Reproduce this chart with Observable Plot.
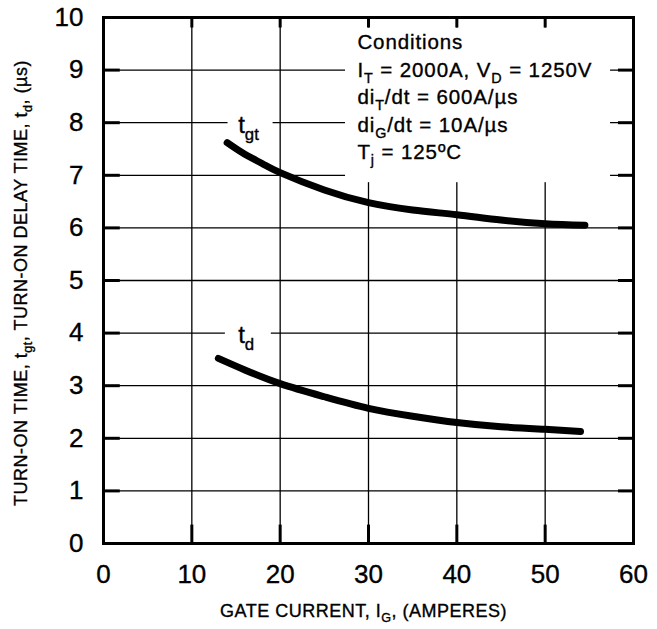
<!DOCTYPE html>
<html>
<head>
<meta charset="utf-8">
<script src="https://cdn.jsdelivr.net/npm/d3@7"></script>
<script src="https://cdn.jsdelivr.net/npm/@observablehq/plot@0.6"></script>
<style>
  body { margin: 0; background: #fff; }
  #chart svg { display: block; }
  #chart svg text { stroke: #000; stroke-width: 0.35px; }
</style>
</head>
<body>
<div id="chart"></div>
<script>
// Turn-on time t_gt versus gate current
const gateCurrentTgt = [14, 16, 18, 20, 25, 30, 35, 40, 45, 50, 54.5];
const turnOnTime = [7.62, 7.40, 7.22, 7.05, 6.72, 6.48, 6.34, 6.25, 6.15, 6.08, 6.05];

// Turn-on delay time t_d versus gate current
const gateCurrentTd = [13, 16, 20, 25, 30, 35, 40, 45, 50, 54];
const delayTime = [3.52, 3.30, 3.04, 2.79, 2.57, 2.42, 2.30, 2.22, 2.17, 2.13];

// Axis ticks
const xTicks = [0, 10, 20, 30, 40, 50, 60];
const yTicks = [0, 1, 2, 3, 4, 5, 6, 7, 8, 9, 10];

// Test conditions, as [text, subscript?] runs
const conditionLines = [
  [["Conditions", false]],
  [["I", false], ["T", true], [" = 2000A, V", false], ["D", true], [" = 1250V", false]],
  [["di", false], ["T", true], ["/dt = 600A/\u00b5s", false]],
  [["di", false], ["G", true], ["/dt = 10A/\u00b5s", false]],
  [["T", false], ["j", true], [" = 125\u00baC", false]]
];
const curveLabels = [
  {name: "tgt", runs: [["t", false], ["gt", true]]},
  {name: "td", runs: [["t", false], ["d", true]]}
];
const xTitle = [["GATE CURRENT, I", false], ["G", true], [", (AMPERES)", false]];
const yTitle = [["TURN-ON TIME, t", false], ["gt", true], [", TURN-ON DELAY TIME, t", false], ["d", true], [", (\u00b5s)", false]];

const tgtRows = gateCurrentTgt.map((x, i) => ({x, y: turnOnTime[i]}));
const tdRows = gateCurrentTd.map((x, i) => ({x, y: delayTime[i]}));

const font = '"Liberation Sans", Arial, Helvetica, sans-serif';
const inner = yTicks.slice(1, -1);
const innerX = xTicks.slice(1, -1);

const plot = Plot.plot({
  width: 657,
  height: 629,
  marginLeft: 103,
  marginRight: 24,
  marginTop: 17,
  marginBottom: 86,
  style: {fontFamily: font, background: "#fff", color: "#000"},
  x: {domain: [0, 60]},
  y: {domain: [0, 10]},
  marks: [
    // grid
    Plot.ruleY(inner, {stroke: "#000", strokeWidth: 1.3}),
    Plot.ruleX(innerX, {stroke: "#000", strokeWidth: 1.3}),
    // white panels behind the annotations
    Plot.rect([{}], {x1: 27.4, x2: 57.4, y1: 6.86, y2: 9.8, fill: "#fff"}),
    Plot.rect([{}], {x1: 14.1, x2: 19.2, y1: 7.7, y2: 8.5, fill: "#fff"}),
    Plot.rect([{}], {x1: 13.8, x2: 19.0, y1: 3.65, y2: 4.45, fill: "#fff"}),
    // heavy tick stubs inside the frame
    Plot.ruleY(inner, {x1: 0, x2: 1.9, stroke: "#000", strokeWidth: 3}),
    Plot.ruleY(inner, {x1: 58.3, x2: 60, stroke: "#000", strokeWidth: 3}),
    Plot.ruleX(innerX, {y1: 0, y2: 0.35, stroke: "#000", strokeWidth: 3}),
    Plot.ruleX(innerX, {y1: 9.8, y2: 10, stroke: "#000", strokeWidth: 3}),
    Plot.axisX({ticks: xTicks, tickSize: 0, tickPadding: 21, fontSize: 26, label: null}),
    Plot.axisY({ticks: yTicks, tickSize: 0, tickPadding: 20, fontSize: 26, label: null}),
    Plot.line(tgtRows, {x: "x", y: "y", curve: "natural", stroke: "#000", strokeWidth: 7}),
    Plot.line(tdRows, {x: "x", y: "y", curve: "natural", stroke: "#000", strokeWidth: 7}),
    Plot.frame({stroke: "#000", strokeWidth: 3})
  ]
});

document.getElementById("chart").appendChild(plot);

const sx = plot.scale("x");
const sy = plot.scale("y");
const svg = d3.select(plot);

// Writes a text element made of normal and subscript runs
function richText(x, y, runs, size, opts = {}) {
  const t = svg.append("text")
    .attr("x", x).attr("y", y)
    .attr("font-family", font)
    .attr("font-size", size)
    .attr("fill", "#000")
    .attr("letter-spacing", opts.spacing || 0)
    .attr("text-anchor", opts.anchor || "start");
  if (opts.rotate) t.attr("transform", `rotate(${opts.rotate},${x},${y})`);
  const shift = size * 0.3;
  let lowered = false;
  for (const [str, sub] of runs) {
    const s = t.append("tspan").text(str);
    if (sub) {
      s.attr("font-size", size * 0.7);
      if (!lowered) s.attr("dy", shift);
      lowered = true;
    } else {
      if (lowered) s.attr("dy", -shift);
      lowered = false;
    }
  }
  return t;
}

// Conditions block
const condX = sx.apply(28.8);
conditionLines.forEach((runs, i) => {
  richText(condX, 49 + i * 27.5, runs, 20.5, {spacing: 0.9});
});

// Curve names
richText(sx.apply(15.3), sy.apply(7.8), curveLabels[0].runs, 24);
richText(sx.apply(15.3), sy.apply(3.8), curveLabels[1].runs, 24);

// Axis titles
richText(sx.apply(29.5), 617, xTitle, 18, {anchor: "middle", spacing: 0.5});
richText(27, 283, yTitle, 18, {anchor: "middle", rotate: -90, spacing: 0.5});
</script>
</body>
</html>
